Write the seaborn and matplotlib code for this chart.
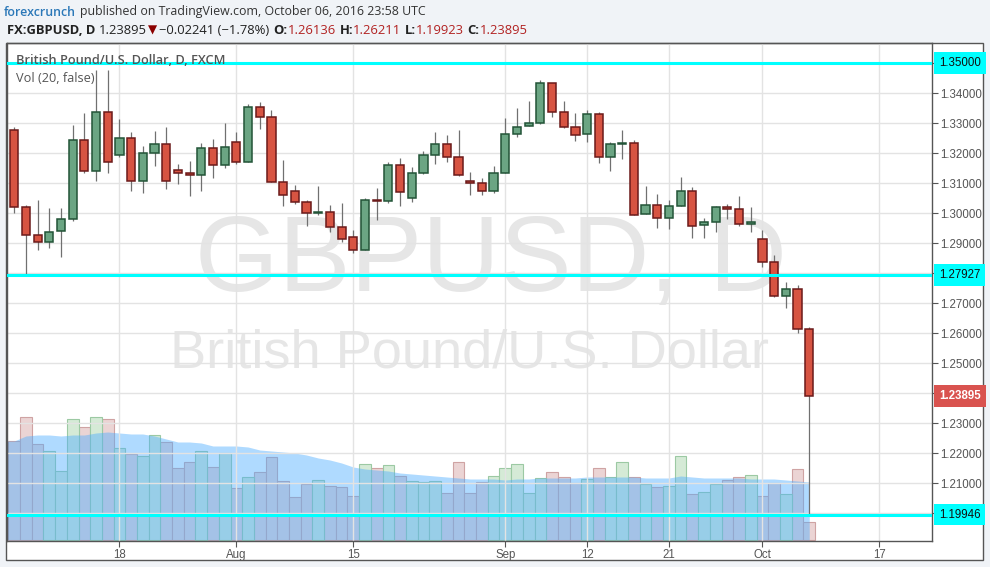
import numpy as np
import pandas as pd
import matplotlib
matplotlib.use("Agg")
import matplotlib.pyplot as plt
import seaborn as sns
from matplotlib.patches import Rectangle
from matplotlib.transforms import IdentityTransform, blended_transform_factory
from matplotlib.ticker import FixedLocator, FixedFormatter

# ---------------- data ----------------
opens = [1.32767, 1.30211, 1.29267, 1.29022, 1.29389, 1.29800, 1.32433, 1.31400, 1.33367, 1.31933,
         1.32500, 1.31067, 1.32000, 1.32300, 1.31433, 1.31333, 1.31267, 1.32167, 1.31600, 1.32367,
         1.31700, 1.33533, 1.33200, 1.31033, 1.30733, 1.30367, 1.30000, 1.30033, 1.29533, 1.29200,
         1.28767, 1.30433, 1.30400, 1.31600, 1.30500, 1.31333, 1.31933, 1.32300, 1.31867, 1.31067,
         1.31000, 1.30733, 1.31322, 1.32633, 1.32900, 1.33000, 1.34333, 1.33367, 1.32867, 1.32633,
         1.33300, 1.31867, 1.32300, 1.32333, 1.29967, 1.30267, 1.29833, 1.30233, 1.30733, 1.29600,
         1.29700, 1.30200, 1.30133, 1.29633, 1.29133, 1.28356, 1.27222, 1.27456, 1.26136]
highs = [1.32878, 1.30267, 1.30444, 1.30178, 1.30178, 1.32944, 1.33344, 1.34778, 1.34778, 1.33144,
         1.32711, 1.32233, 1.32744, 1.32878, 1.31633, 1.31744, 1.32344, 1.32478, 1.33011, 1.32711,
         1.33644, 1.33700, 1.33433, 1.31756, 1.30933, 1.30444, 1.30900, 1.30278, 1.30344, 1.29444,
         1.30511, 1.30844, 1.31711, 1.31844, 1.31533, 1.32078, 1.32711, 1.32611, 1.32778, 1.31367,
         1.31178, 1.31567, 1.33178, 1.33511, 1.33744, 1.34444, 1.34333, 1.33744, 1.33344, 1.33444,
         1.33378, 1.32378, 1.32778, 1.32444, 1.30900, 1.30633, 1.30433, 1.31211, 1.30867, 1.29833,
         1.30233, 1.30300, 1.30567, 1.30200, 1.29433, 1.28600, 1.27700, 1.27589, 1.26211]
lows = [1.29989, 1.27927, 1.28756, 1.28822, 1.28522, 1.29722, 1.31322, 1.31056, 1.31322, 1.31867,
        1.30722, 1.30656, 1.31556, 1.30789, 1.30956, 1.30556, 1.30722, 1.31156, 1.31489, 1.31633,
        1.31700, 1.32800, 1.31033, 1.30233, 1.30300, 1.29556, 1.29933, 1.29356, 1.29022, 1.28667,
        1.28767, 1.29756, 1.30333, 1.30222, 1.30356, 1.31300, 1.31622, 1.31700, 1.31233, 1.30589,
        1.30600, 1.30667, 1.31322, 1.32533, 1.32900, 1.32967, 1.33200, 1.32833, 1.32400, 1.32367,
        1.31667, 1.31400, 1.31800, 1.29933, 1.29967, 1.29489, 1.29456, 1.30233, 1.29156, 1.29156,
        1.29356, 1.29789, 1.29567, 1.29356, 1.28200, 1.27189, 1.26844, 1.26011, 1.19923]
closes = [1.30211, 1.29267, 1.29022, 1.29367, 1.29800, 1.32433, 1.31400, 1.33367, 1.31700, 1.32500,
          1.31067, 1.32000, 1.32300, 1.31067, 1.31333, 1.31267, 1.32167, 1.31600, 1.32200, 1.31700,
          1.33533, 1.33200, 1.31033, 1.30600, 1.30367, 1.30000, 1.30033, 1.29533, 1.29133, 1.28767,
          1.30433, 1.30400, 1.31600, 1.30700, 1.31333, 1.31933, 1.32300, 1.31867, 1.31267, 1.31000,
          1.30733, 1.31333, 1.32633, 1.32867, 1.33000, 1.34333, 1.33367, 1.32867, 1.32600, 1.33300,
          1.31867, 1.32300, 1.32333, 1.29933, 1.30267, 1.29833, 1.30233, 1.30733, 1.29567, 1.29700,
          1.30200, 1.30133, 1.29633, 1.29700, 1.28367, 1.27222, 1.27456, 1.26122, 1.23895]
volume = [99, 123, 96, 89, 69, 121, 113, 123, 121, 92,
          86, 84, 105, 98, 72, 78, 89, 73, 87, 52,
          63, 68, 83, 59, 43, 56, 60, 54, 53, 44,
          76, 72, 75, 64, 59, 58, 59, 47, 78, 47,
          58, 64, 72, 76, 47, 62, 68, 63, 57, 61,
          72, 63, 78, 63, 56, 53, 54, 84, 46, 48,
          56, 60, 63, 65, 44, 57, 46, 71, 18]
vol_ma = [99, 104, 105, 105, 104, 105, 105, 107, 108, 107,
          106, 106, 104, 101, 98, 98, 97, 94, 94, 94,
          93, 90, 89, 88, 87, 85, 82, 80, 77, 73,
          71, 70, 69, 67, 66, 65, 64, 63, 62, 61,
          61, 61, 60, 61, 61, 62, 62, 62, 62, 63,
          63, 63, 63, 63, 62, 62, 62, 64, 63, 62,
          62, 62, 62, 61, 61, 61, 60, 59, 58]
first_day = "2016-07-05"
tick_dates = ["2016-07-18", "2016-08-01", "2016-08-15", "2016-09-01",
              "2016-09-12", "2016-09-21", "2016-10-03", "2016-10-17"]
tick_labels = ["18", "Aug", "15", "Sep", "12", "21", "Oct", "17"]
level_lines = [1.35000, 1.27927, 1.19946]
last_close = 1.23895
price_ticks = [round(1.20 + 0.01 * i, 2) for i in range(16)]

# ---------------- frame ----------------
n = len(opens)
dates = pd.bdate_range(first_day, periods=n + 20)
idx = np.arange(n)
tick_pos = [dates.get_loc(pd.Timestamp(d)) for d in tick_dates]

df = pd.DataFrame({"idx": idx, "open": opens, "high": highs, "low": lows,
                   "close": closes, "volume": volume, "vol_ma": vol_ma})
df["dir"] = np.where(df["close"] >= df["open"], "up", "down")

sns.set_theme(style="white")
plt.rcParams["font.family"] = ["Liberation Sans", "DejaVu Sans"]

W, H = 990, 567
fig = plt.figure(figsize=(W / 100, H / 100), dpi=100)
fig.patch.set_facecolor("#f0f3f7")

# outer frame (chart + price scale + time scale)
fig.add_artist(Rectangle((6 / W, 7 / H), 977 / W, 517 / H, transform=fig.transFigure,
                         facecolor="white", edgecolor="#555555", lw=1.0, zorder=0))

rect = [7 / W, 26 / H, 925 / W, 498 / H]
axv = fig.add_axes(rect, zorder=1)
ax = fig.add_axes(rect, zorder=2)
ax.set_facecolor("none")
axv.set_facecolor("white")

xlim = (-0.62, 78.5)

# ---------------- watermark ----------------
axv.text(0.5235, 1 - (291 - 43) / 498, "GBPUSD, D", transform=axv.transAxes, ha="center",
         va="baseline", fontsize=77.5, color="#e6e6e6", zorder=0)
axv.text(0.4995, 1 - (368 - 43) / 498, "British Pound/U.S. Dollar", transform=axv.transAxes,
         ha="center", va="baseline", fontsize=39, color="#e6e6e6", zorder=0)

# ---------------- volume ----------------
sns.barplot(data=df, x="idx", y="volume", hue="dir", native_scale=True, dodge=False,
            width=1.0, palette={"up": "#d5ead6", "down": "#ebd4d4"}, legend=False,
            linewidth=0.8, ax=axv, zorder=1, saturation=1)
for p in axv.patches:
    fc = p.get_facecolor()
    p.set_edgecolor("#9cc9a3" if fc[1] > fc[0] else "#cfa3a3")
ma_x = np.r_[xlim[0], idx]
ma_y = np.r_[vol_ma[0], vol_ma]
axv.fill_between(ma_x, 0, ma_y, color="#4eaeff", alpha=0.45, lw=0, zorder=2)
axv.set_xlim(*xlim)
axv.set_ylim(-1, 497)
axv.axis("off")

# ---------------- price grid / candles ----------------
ax.set_xlim(*xlim)
ax.set_ylim(1.190667, 1.356667)
ax.yaxis.tick_right()
ax.yaxis.set_major_locator(FixedLocator(price_ticks))
hidden = {1.20, 1.24, 1.28, 1.35}
ax.yaxis.set_major_formatter(FixedFormatter(
    ["" if t in hidden else f"{t:.5f}" for t in price_ticks]))
ax.xaxis.set_major_locator(FixedLocator(tick_pos))
ax.xaxis.set_major_formatter(FixedFormatter(tick_labels))
ax.grid(True, color="#e3e3e3", lw=1.0, zorder=0)
ax.set_axisbelow(True)
ax.tick_params(axis="y", which="major", right=True, left=False, direction="out", length=4,
               width=0.8, color="#555555", labelsize=8.3, labelcolor="#555555", pad=2)
ax.tick_params(axis="x", which="major", bottom=True, direction="out", length=4,
               width=0.8, color="#555555", labelsize=8.3, labelcolor="#555555", pad=1.5)
for s in ax.spines.values():
    s.set_color("#555555")
    s.set_linewidth(1.0)
    s.set_visible(True)

up = df[df["dir"] == "up"]
dn = df[df["dir"] == "down"]
ax.vlines(df["idx"], df["low"], df["high"], color="#707070", lw=0.9, zorder=3)
ax.bar(up["idx"], (up["close"] - up["open"]).clip(lower=0.00012), bottom=up["open"],
       width=0.7, color="#6ba583", edgecolor="#225437", lw=1.1, zorder=4)
ax.bar(dn["idx"], (dn["open"] - dn["close"]).clip(lower=0.00012), bottom=dn["close"],
       width=0.7, color="#d75442", edgecolor="#6b1a1a", lw=1.1, zorder=4)

for lv in level_lines:
    ax.axhline(lv, color="#00ffff", lw=2.2, zorder=6)

# price-scale badges
bt = blended_transform_factory(ax.transAxes, ax.transData)
for lv in level_lines:
    ax.text(1.0075, lv, f"{lv:.5f}", transform=bt, ha="left", va="center", fontsize=8.3,
            color="#111111", clip_on=False, zorder=7,
            bbox=dict(boxstyle="square,pad=0.42", fc="#00ffff", ec="none"))
ax.text(1.0075, last_close, f"{last_close:.5f}", transform=bt, ha="left", va="center",
        fontsize=8.3, color="white", fontweight="bold", clip_on=False, zorder=7,
        bbox=dict(boxstyle="square,pad=0.42", fc="#d9534f", ec="none"))

# legend-like labels inside pane
ax.text(9 / 925, 1 - 17 / 498, "British Pound/U.S. Dollar, D, FXCM", transform=ax.transAxes,
        ha="left", va="center", fontsize=9.2, color="#555555", fontweight="semibold",
        family=["Open Sans", "DejaVu Sans"], zorder=8)
ax.text(9 / 925, 1 - 35 / 498, "Vol (20, false)", transform=ax.transAxes,
        ha="left", va="center", fontsize=9.2, color="#555555",
        family=["Open Sans", "DejaVu Sans"], zorder=8)

# ---------------- header ----------------
renderer = fig.canvas.get_renderer()
hdr = dict(fontsize=9.4, family=["Open Sans", "DejaVu Sans"])


def run(pieces, x, y_img):
    for txt, kw, gap in pieces:
        t = fig.text(x, H - y_img, txt, transform=IdentityTransform(), ha="left",
                     va="center", **{**hdr, **kw})
        x += t.get_window_extent(renderer).width + gap


sp = 3.5
run([("forexcrunch", dict(color="#2b78b8", fontweight="semibold", fontsize=8.9), sp),
     ("published on TradingView.com, October 06, 2016 23:58 UTC",
      dict(color="#333333", fontsize=8.9), 0)],
    4, 12)
red = "#b22222"
run([("FX:GBPUSD, D", dict(color="#222222", fontweight="bold"), sp),
     ("1.23895", dict(color="#222222"), 1.5),
     ("▼", dict(color="#8b0000", family=["DejaVu Sans"], fontsize=8.6), 1.5),
     ("\u22120.02241 (\u22121.78%)", dict(color="#222222"), sp + 1),
     ("O:", dict(color="#222222", fontweight="bold"), 0),
     ("1.26136", dict(color=red), sp),
     ("H:", dict(color="#222222", fontweight="bold"), 0),
     ("1.26211", dict(color=red), sp),
     ("L:", dict(color="#222222", fontweight="bold"), 0),
     ("1.19923", dict(color=red), sp),
     ("C:", dict(color="#222222", fontweight="bold"), 0),
     ("1.23895", dict(color=red), 0)],
    7, 30)

fig.savefig("out.png", dpi=100, facecolor=fig.get_facecolor())
